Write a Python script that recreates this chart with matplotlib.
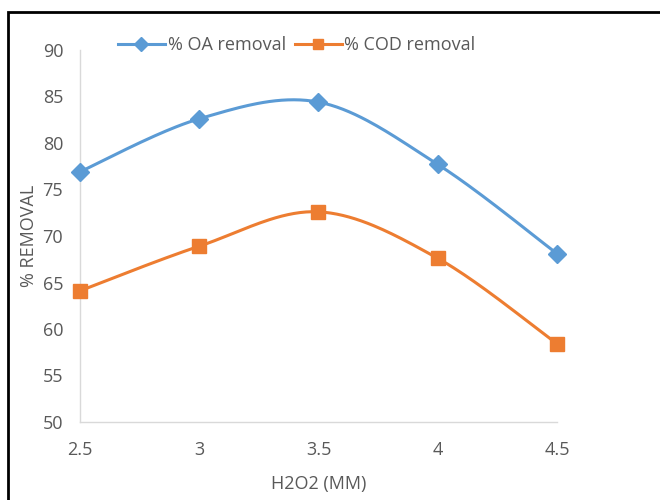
import numpy as np
import matplotlib
matplotlib.use("Agg")
import matplotlib.pyplot as plt
from matplotlib.patches import Rectangle

h2o2 = [2.5, 3.0, 3.5, 4.0, 4.5]
oa_removal = [76.9, 82.6, 84.4, 77.7, 68.1]
cod_removal = [64.1, 68.9, 72.6, 67.6, 58.4]
x_ticks = [2.5, 3, 3.5, 4, 4.5]
x_tick_labels = ["2.5", "3", "3.5", "4", "4.5"]
y_ticks = [50, 55, 60, 65, 70, 75, 80, 85, 90]

plt.rcParams['font.family'] = ['Open Sans', 'DejaVu Sans']


def smooth(x, y, n=40):
    # Excel-style smoothed line: cubic Bezier segments with Catmull-Rom control points
    x = np.asarray(x, float)
    y = np.asarray(y, float)
    px = np.concatenate([[x[0]], x, [x[-1]]])
    py = np.concatenate([[y[0]], y, [y[-1]]])
    xs, ys = [], []
    t = np.linspace(0, 1, n)
    for i in range(len(x) - 1):
        p0 = np.array([px[i + 1], py[i + 1]])
        p3 = np.array([px[i + 2], py[i + 2]])
        c1 = p0 + (np.array([px[i + 2], py[i + 2]]) - np.array([px[i], py[i]])) / 6.0
        c2 = p3 - (np.array([px[i + 3], py[i + 3]]) - np.array([px[i + 1], py[i + 1]])) / 6.0
        b = ((1 - t) ** 3)[:, None] * p0 + (3 * (1 - t) ** 2 * t)[:, None] * c1 \
            + (3 * (1 - t) * t ** 2)[:, None] * c2 + (t ** 3)[:, None] * p3
        xs.append(b[:, 0])
        ys.append(b[:, 1])
    return np.concatenate(xs), np.concatenate(ys)


fig = plt.figure(figsize=(6.6, 5.0), dpi=100)
ax = fig.add_axes([0.121, 0.156, 0.723, 0.744])

blue = "#5B9BD5"
orange = "#ED7D31"
text_col = "#595959"

sx, sy = smooth(h2o2, oa_removal)
ax.plot(sx, sy, color=blue, lw=2.2, zorder=2, clip_on=False)
ax.plot(h2o2, oa_removal, ls='none', marker='D', ms=9.5, color=blue, zorder=3, clip_on=False)
sx, sy = smooth(h2o2, cod_removal)
ax.plot(sx, sy, color=orange, lw=2.2, zorder=2, clip_on=False)
ax.plot(h2o2, cod_removal, ls='none', marker='s', ms=10, color=orange, zorder=3, clip_on=False)

# legend proxies
ax.plot([], [], color=blue, lw=2.2, marker='D', ms=7, label="% OA removal")
ax.plot([], [], color=orange, lw=2.2, marker='s', ms=7, label="% COD removal")
fig.legend(loc='center left', bbox_to_anchor=(118 / 660, 1 - 45 / 500), ncol=2, frameon=False,
           fontsize=13, labelcolor=text_col, handlelength=2.6, columnspacing=0.5,
           handletextpad=0.15, borderaxespad=0, borderpad=0)

ax.set_xlim(2.5, 4.5)
ax.set_ylim(50, 90)
ax.set_xticks(x_ticks)
ax.set_xticklabels(x_tick_labels)
ax.set_yticks(y_ticks)
ax.tick_params(axis='both', length=0, labelsize=13, labelcolor=text_col)
ax.tick_params(axis='x', pad=14)
ax.tick_params(axis='y', pad=12)
for s in ['top', 'right']:
    ax.spines[s].set_visible(False)
for s in ['left', 'bottom']:
    ax.spines[s].set_color("#D9D9D9")
    ax.spines[s].set_linewidth(1.0)

ax.set_xlabel("H2O2 (MM)", fontsize=13, color=text_col, labelpad=11)
ax.set_ylabel("% REMOVAL", fontsize=13, color=text_col, labelpad=3)

# outer black frame
fig.patches.append(Rectangle((8 / 660, -0.1), 1.1, 1.1 - 12 / 500,
                             transform=fig.transFigure, fill=False,
                             edgecolor='black', linewidth=2))

fig.savefig("out.png", dpi=100)
